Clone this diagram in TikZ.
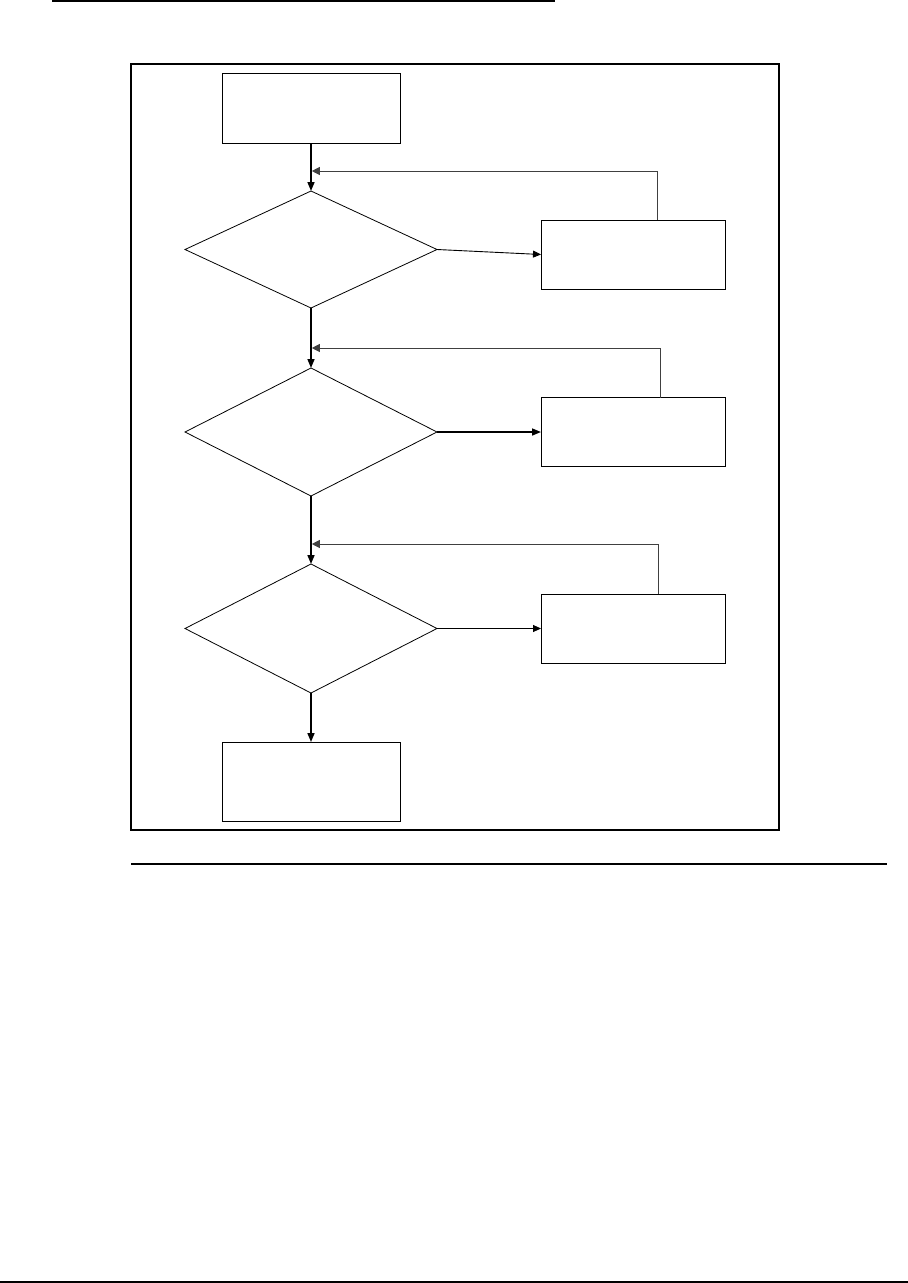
\documentclass[tikz,border=0pt]{standalone}
\usepackage{tikz}
\usetikzlibrary{positioning,arrows.meta,shapes.geometric,calc}

\begin{document}
\begin{tikzpicture}[
  x=1pt, y=-1pt, node distance=48pt,
  caja/.style={draw, line width=1pt, minimum width=178pt, inner sep=0pt, outer sep=0pt},
  accion/.style={draw, line width=1pt, minimum width=184pt, minimum height=69pt, inner sep=0pt, outer sep=0pt},
  rombo/.style={diamond, draw, line width=0.8pt, minimum width=252pt, inner sep=0pt, outer sep=0pt},
  flecha/.style={-{Triangle[length=9pt,width=7pt]}, line width=1.6pt},
  fina/.style={-{Triangle[length=8pt,width=7pt]}, line width=0.9pt},
  vuelta/.style={-{Triangle[length=8pt,width=8pt]}, line width=0.9pt, black!75, shorten >=0.8pt}
]
  \useasboundingbox (0,0) rectangle (908,1283);
  % reglas y marco
  \draw[line width=1.7pt] (52,1) -- (555,1);
  \draw[line width=1.7pt] (131,64) rectangle (779,830);
  \draw[line width=1.2pt] (131,864) -- (887,864);
  \draw[line width=1.3pt] (0,1282) -- (908,1282);

  \node[caja, minimum height=70pt] (inicio) at (311,108) {};
  \node[rombo, minimum height=117pt, below=48pt of inicio] (d1) {};
  \node[rombo, minimum height=128pt, below=60pt of d1] (d2) {};
  \node[rombo, minimum height=129pt, below=68pt of d2] (d3) {};
  \node[caja, minimum height=79pt, below=49pt of d3] (fin) {};
  \node[accion, right=104pt of d1, yshift=-5pt] (a1) {};
  \node[accion, right=104pt of d2] (a2) {};
  \node[accion, right=104pt of d3] (a3) {};

  \coordinate (j1) at ([yshift=20pt]d1.north);
  \coordinate (j2) at ([yshift=20pt]d2.north);
  \coordinate (j3) at ([yshift=20pt]d3.north);

  \draw[flecha] (inicio) -- (d1);
  \draw[flecha] (d1) -- (d2);
  \draw[flecha] (d2) -- (d3);
  \draw[flecha] (d3) -- (fin);
  \draw[fina] (d1.east) -- (a1.west);
  \draw[flecha] (d2.east) -- (a2.west);
  \draw[fina] (d3.east) -- (a3.west);
  \draw[vuelta] ([xshift=24pt]a1.north) |- (j1);
  \draw[vuelta] ([xshift=27pt]a2.north) |- (j2);
  \draw[vuelta] ([xshift=25pt]a3.north) |- (j3);
\end{tikzpicture}
\end{document}
